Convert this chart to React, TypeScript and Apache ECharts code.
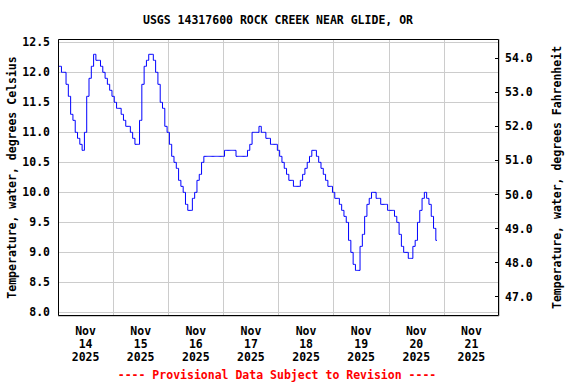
import React, { useEffect, useRef } from 'react';
import * as echarts from 'echarts';

const TITLE = 'USGS 14317600 ROCK CREEK NEAR GLIDE, OR';
const FOOTER = '---- Provisional Data Subject to Revision ----';
const LEFT_NAME = 'Temperature, water, degrees Celsius';
const RIGHT_NAME = 'Temperature, water, degrees Fahrenheit';

// one label per day, centred in each day's band
const dayLabels = [
  'Nov\n14\n2025',
  'Nov\n15\n2025',
  'Nov\n16\n2025',
  'Nov\n17\n2025',
  'Nov\n18\n2025',
  'Nov\n19\n2025',
  'Nov\n20\n2025',
  'Nov\n21\n2025',
];

// hourly water temperature (deg C), starting 2025-11-14 00:00
const tempC = [
  12.1, 12.1, 12.0, 12.0, 11.8, 11.6, 11.3, 11.2, 11.0, 10.9, 10.8, 10.7,
  11.0, 11.6, 11.9, 12.1, 12.3, 12.2, 12.2, 12.1, 12.0, 11.9, 11.8, 11.7,
  11.6, 11.5, 11.4, 11.4, 11.3, 11.2, 11.1, 11.1, 11.0, 10.9, 10.8, 10.8,
  11.2, 11.8, 12.1, 12.2, 12.3, 12.3, 12.2, 12.0, 11.8, 11.5, 11.4, 11.1,
  11.0, 10.8, 10.6, 10.5, 10.4, 10.2, 10.1, 10.0, 9.8, 9.7, 9.7, 9.9,
  10.0, 10.2, 10.3, 10.5, 10.6, 10.6, 10.6, 10.6, 10.6, 10.6, 10.6, 10.6,
  10.6, 10.7, 10.7, 10.7, 10.7, 10.7, 10.6, 10.6, 10.6, 10.6, 10.6, 10.7,
  10.8, 11.0, 11.0, 11.0, 11.1, 11.0, 11.0, 10.9, 10.9, 10.8, 10.8, 10.8,
  10.7, 10.6, 10.5, 10.4, 10.3, 10.2, 10.2, 10.1, 10.1, 10.1, 10.2, 10.3,
  10.4, 10.5, 10.6, 10.7, 10.7, 10.6, 10.5, 10.4, 10.3, 10.2, 10.1, 10.1,
  10.0, 9.9, 9.9, 9.8, 9.7, 9.6, 9.5, 9.2, 9.0, 8.8, 8.7, 8.7,
  9.1, 9.3, 9.6, 9.8, 9.9, 10.0, 10.0, 9.9, 9.9, 9.8, 9.8, 9.8,
  9.7, 9.7, 9.7, 9.6, 9.5, 9.3, 9.1, 9.0, 9.0, 8.9, 8.9, 9.1,
  9.2, 9.5, 9.7, 9.9, 10.0, 9.9, 9.8, 9.6, 9.4, 9.2,
];

const hoursRange = [0, 192];
const celsiusRange = [7.94, 12.555];
const fahrenheitRange = [46.433, 54.567];

const GRID = { left: 58, top: 39, right: 77, bottom: 68 };

const font = {
  fontFamily: "'DejaVu Sans Mono', monospace",
  fontWeight: 'bold' as const,
  fontSize: 11.5,
  color: '#000000',
};

export default function App() {
  const ref = useRef<HTMLDivElement>(null);

  useEffect(() => {
    if (!ref.current) return;
    const chart = echarts.init(ref.current, null, { renderer: 'svg' });
    const gridW = 576 - GRID.left - GRID.right;
    const gridH = 384 - GRID.top - GRID.bottom;

    chart.setOption({
      animation: false,
      backgroundColor: '#ffffff',
      grid: {
        left: GRID.left,
        top: GRID.top,
        right: GRID.right,
        bottom: GRID.bottom,
        containLabel: false,
        outerBoundsMode: 'none',
      },
      xAxis: [
        {
          type: 'value',
          min: hoursRange[0],
          max: hoursRange[1],
          interval: 24,
          axisLabel: { show: false },
          axisLine: { show: false },
          axisTick: { show: false },
          splitLine: { show: true, lineStyle: { color: '#cccccc', width: 1 } },
        },
        {
          type: 'category',
          data: dayLabels,
          boundaryGap: true,
          position: 'bottom',
          axisLine: { show: false },
          axisTick: { show: false },
          splitLine: { show: false },
          axisLabel: { ...font, lineHeight: 13, margin: 8, interval: 0 },
        },
      ],
      yAxis: [
        {
          type: 'value',
          min: celsiusRange[0],
          max: celsiusRange[1],
          splitNumber: 9,
          position: 'left',
          axisLine: { show: false },
          axisTick: { show: false },
          splitLine: { show: true, lineStyle: { color: '#cccccc', width: 1 } },
          axisLabel: {
            ...font,
            margin: 8,
            showMinLabel: false,
            showMaxLabel: false,
            formatter: (v: number) => v.toFixed(1),
          },
          name: LEFT_NAME,
          nameLocation: 'middle',
          nameRotate: 90,
          nameGap: 40,
          nameTextStyle: { ...font },
          nameMoveOverlap: false,
        },
        {
          type: 'value',
          min: fahrenheitRange[0],
          max: fahrenheitRange[1],
          splitNumber: 8,
          position: 'right',
          axisLine: { show: false },
          axisTick: { show: true, inside: true, length: 4, lineStyle: { color: '#000000', width: 1 } },
          splitLine: { show: false },
          axisLabel: {
            ...font,
            margin: 6,
            showMinLabel: false,
            showMaxLabel: false,
            formatter: (v: number) => v.toFixed(1),
          },
          name: RIGHT_NAME,
          nameLocation: 'middle',
          nameRotate: 90,
          nameGap: 52,
          nameTextStyle: { ...font },
          nameMoveOverlap: false,
        },
      ],
      series: [
        {
          type: 'line',
          xAxisIndex: 0,
          yAxisIndex: 0,
          step: 'middle',
          data: tempC.map((v, i) => [i, v]),
          showSymbol: false,
          symbol: 'none',
          lineStyle: { color: '#0000ff', width: 1 },
          itemStyle: { color: '#0000ff' },
          z: 3,
        },
      ],
      graphic: [
        {
          type: 'rect',
          z: 100,
          silent: true,
          shape: { x: GRID.left + 0.5, y: GRID.top + 0.5, width: gridW - 1, height: gridH - 1 },
          style: { fill: 'none', stroke: '#000000', lineWidth: 1 },
        },
        {
          type: 'text',
          x: 278,
          y: 20,
          style: {
            text: TITLE,
            textAlign: 'center',
            textVerticalAlign: 'middle',
            font: "bold 11.5px 'DejaVu Sans Mono', monospace",
            fill: '#000000',
          },
        },
        {
          type: 'text',
          x: 277,
          y: 375,
          style: {
            text: FOOTER,
            textAlign: 'center',
            textVerticalAlign: 'middle',
            font: "bold 11.5px 'DejaVu Sans Mono', monospace",
            fill: '#ff0000',
          },
        },
      ],
    });

    return () => {
      chart.dispose();
    };
  }, []);

  return (
    <div
      ref={ref}
      style={{ position: 'fixed', left: 0, top: 0, width: 576, height: 384, background: '#fff' }}
    />
  );
}
